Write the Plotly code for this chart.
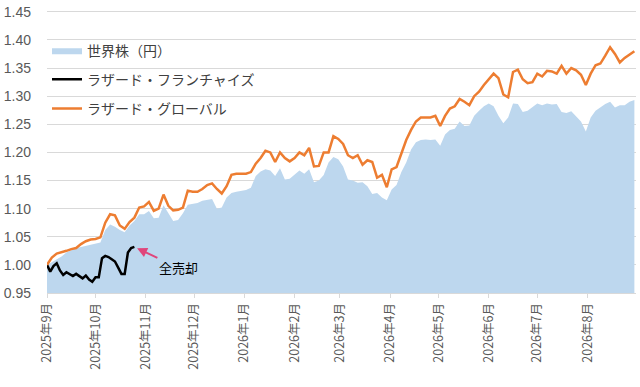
import pandas as pd
import plotly.graph_objects as go

# ---- data ----
start_date = "2025-09-01"
world_equity = [
    1.000, 1.005, 1.010, 1.015, 1.022, 1.026, 1.030, 1.032, 1.034, 1.035,
    1.037, 1.040, 1.062, 1.072, 1.068, 1.062, 1.058, 1.070, 1.078, 1.090,
    1.090, 1.096, 1.083, 1.084, 1.106, 1.092, 1.078, 1.080, 1.092, 1.107,
    1.108, 1.110, 1.114, 1.116, 1.117, 1.100, 1.102, 1.120, 1.128, 1.130,
    1.131, 1.133, 1.137, 1.158, 1.166, 1.170, 1.168, 1.158, 1.172, 1.152,
    1.153, 1.160, 1.168, 1.162, 1.170, 1.147, 1.150, 1.160, 1.182, 1.192,
    1.188, 1.175, 1.152, 1.150, 1.146, 1.147, 1.140, 1.126, 1.128, 1.120,
    1.115, 1.134, 1.142, 1.165, 1.182, 1.205, 1.218, 1.222, 1.223, 1.222,
    1.223, 1.212, 1.232, 1.240, 1.242, 1.255, 1.247, 1.248, 1.265, 1.274,
    1.282, 1.287, 1.282, 1.265, 1.252, 1.262, 1.287, 1.286, 1.272, 1.274,
    1.280, 1.287, 1.284, 1.287, 1.285, 1.286, 1.272, 1.270, 1.273, 1.264,
    1.255, 1.237, 1.262, 1.274, 1.280, 1.286, 1.290, 1.280, 1.284, 1.284,
    1.290, 1.293,
]
lazard_global = [
    1.000, 1.013, 1.020, 1.022, 1.025, 1.028, 1.030, 1.037, 1.042, 1.045,
    1.046, 1.049, 1.075, 1.090, 1.088, 1.070, 1.064, 1.076, 1.084, 1.102,
    1.104, 1.112, 1.096, 1.100, 1.125, 1.105, 1.097, 1.098, 1.102, 1.132,
    1.130, 1.130, 1.135, 1.142, 1.145, 1.135, 1.127, 1.140, 1.160, 1.162,
    1.162, 1.162, 1.165, 1.180, 1.190, 1.203, 1.200, 1.183, 1.200, 1.190,
    1.184, 1.190, 1.200, 1.195, 1.208, 1.175, 1.176, 1.200, 1.200, 1.229,
    1.224, 1.215, 1.195, 1.190, 1.195, 1.178, 1.186, 1.183, 1.155, 1.160,
    1.138, 1.170, 1.174, 1.200, 1.222, 1.240, 1.255, 1.262, 1.262, 1.262,
    1.265, 1.247, 1.265, 1.278, 1.282, 1.295, 1.290, 1.284, 1.300, 1.308,
    1.320, 1.330, 1.340, 1.332, 1.303, 1.298, 1.343, 1.347, 1.330, 1.323,
    1.325, 1.340, 1.335, 1.345, 1.344, 1.340, 1.354, 1.340, 1.350, 1.346,
    1.338, 1.320, 1.340, 1.355, 1.358, 1.372, 1.387, 1.375, 1.360, 1.368,
    1.374, 1.380,
]
lazard_franchise = [
    1.000, 0.988, 0.998, 1.003, 0.990, 0.982, 0.987, 0.984, 0.980, 0.984,
    0.980, 0.976, 0.981, 0.974, 0.970, 0.978, 0.978, 1.012, 1.016, 1.014,
    1.010, 1.006, 0.995, 0.984, 0.984, 1.022, 1.030, 1.032,
]
main_dates = pd.date_range(start_date, periods=len(world_equity), freq="3D")
franchise_dates = pd.date_range(start_date, periods=len(lazard_franchise), freq="2D")

tick_dates = pd.date_range("2025-09-01", "2026-08-01", freq="MS")
tick_labels = ["2025年9月", "2025年10月", "2025年11月", "2025年12月",
               "2026年1月", "2026年2月", "2026年3月", "2026年4月",
               "2026年5月", "2026年6月", "2026年7月", "2026年8月"]
y_ticks = [0.95, 1.00, 1.05, 1.10, 1.15, 1.20, 1.25, 1.30, 1.35, 1.40, 1.45]

names = ["世界株（円）", "ラザード・フランチャイズ", "ラザード・グローバル"]
annotation_text = "全売却"

FONT = "Noto Sans CJK JP"

fig = go.Figure()
fig.add_trace(go.Scatter(
    x=main_dates, y=world_equity, name=names[0], mode="lines",
    line=dict(width=0, color="#BDD7EE"), fill="tozeroy",
    fillcolor="#BDD7EE", legendgroup="a"))
fig.add_trace(go.Scatter(
    x=franchise_dates, y=lazard_franchise, name=names[1], mode="lines",
    line=dict(width=2.5, color="#000000"), legendgroup="b"))
fig.add_trace(go.Scatter(
    x=main_dates, y=lazard_global, name=names[2], mode="lines",
    line=dict(width=2.5, color="#ED7D31"), legendgroup="c"))

fig.add_annotation(
    x=franchise_dates[-1], y=lazard_franchise[-1], xref="x", yref="y",
    text=annotation_text, showarrow=True, arrowhead=2, arrowsize=1,
    arrowwidth=2, arrowcolor="#E0457B", ax=44, ay=21, standoff=3,
    font=dict(family=FONT, size=13, color="#000000"))

fig.update_layout(
    width=640, height=387,
    margin=dict(l=47, r=4, t=4, b=94),
    paper_bgcolor="white", plot_bgcolor="white",
    font=dict(family=FONT, color="#595959"),
    showlegend=True,
    legend=dict(x=0.0, y=0.91, xanchor="left", yanchor="top",
                bgcolor="rgba(0,0,0,0)", tracegroupgap=8,
                font=dict(family=FONT, size=14, color="#404040"),
                itemwidth=30),
)
fig.update_xaxes(
    type="date", range=[main_dates[0], pd.Timestamp("2026-08-31")],
    tickmode="array", tickvals=tick_dates, ticktext=tick_labels,
    tickangle=-90, tickfont=dict(family=FONT, size=12.5, color="#595959"),
    showgrid=False, showline=True, linecolor="#D9D9D9", linewidth=1,
    ticks="outside", ticklen=4, tickcolor="#D9D9D9", zeroline=False)
fig.update_yaxes(
    range=[0.95, 1.455], tickmode="array", tickvals=y_ticks,
    ticktext=[f"{v:.2f}" for v in y_ticks],
    tickfont=dict(family="Liberation Sans", size=14, color="#595959"),
    showgrid=True, gridcolor="#D9D9D9", gridwidth=1, zeroline=False,
    showline=False, ticks="", ticklabelstandoff=15,
    ticklabeloverflow="allow")

fig.write_html("out.html")
